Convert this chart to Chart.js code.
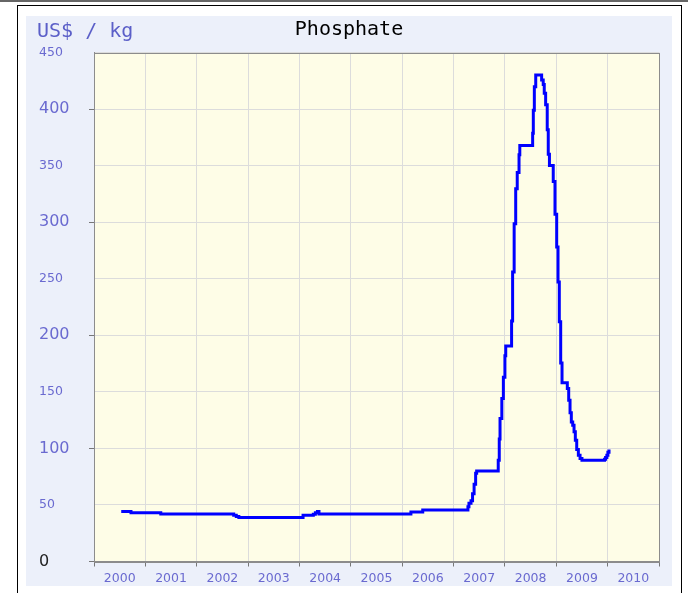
<!DOCTYPE html>
<html><head><meta charset="utf-8">
<script src="https://cdn.jsdelivr.net/npm/chart.js@4/dist/chart.umd.min.js"></script>
<style>
html,body{margin:0;padding:0;background:#fff;width:688px;height:593px;overflow:hidden;}
#topline{position:absolute;left:0;top:0;width:688px;height:2px;background:#666;}
#frame{position:absolute;left:17px;top:5px;width:665px;height:600px;border:1px solid #000;box-sizing:border-box;}
#panel{position:absolute;left:26px;top:16px;width:646px;height:570px;background:#ECF0FA;}
#unit{position:absolute;left:37px;top:18px;font:20px 'DejaVu Sans Mono',monospace;line-height:24px;color:#5b5fc8;white-space:pre;}
canvas{position:absolute;left:0;top:0;}
</style></head>
<body>
<div id="topline"></div>
<div id="frame"></div>
<div id="panel"><canvas id="c" width="646" height="570"></canvas></div>
<div id="unit">US$ / kg</div>
<script>
// Time positions (decimal years) where each new price level begins
const times = [
  2000.53, 2000.72, 2001.30, 2002.72, 2002.77, 2002.82,
  2004.07, 2004.27, 2004.31, 2004.35, 2004.38, 2006.17, 2006.40,
  2007.28, 2007.30, 2007.34, 2007.37, 2007.40, 2007.43, 2007.45,
  2007.87, 2007.89, 2007.905, 2007.94, 2007.97, 2008.00, 2008.016,
  2008.13, 2008.15, 2008.18, 2008.21, 2008.24, 2008.275, 2008.29,
  2008.54, 2008.553, 2008.573, 2008.60, 2008.715, 2008.746, 2008.766,
  2008.793, 2008.824, 2008.844, 2008.867, 2008.941, 2008.975, 2009.008,
  2009.034, 2009.059, 2009.086, 2009.112, 2009.215, 2009.242, 2009.268,
  2009.293, 2009.32, 2009.346, 2009.371, 2009.398, 2009.43, 2009.463,
  2009.50, 2009.94, 2009.96, 2009.985, 2010.005, 2010.027
];
// Phosphate price (US$ / kg as labelled)
const prices = [
  44.3, 43.1, 42.0, 40.8, 39.8, 39.0,
  40.8, 41.8, 43.2, 44.3, 42.0, 43.7, 45.5,
  48.5, 51.4, 53.7, 60.0, 68.4, 78.0, 80.0,
  89.6, 108.4, 126.4, 144.0, 163.0, 182.0, 190.5,
  212.6, 256.0, 298.6, 329.5, 344.0, 359.5, 367.7,
  378.6, 399.0, 419.8, 430.0, 425.7, 421.6, 414.0,
  403.7, 381.6, 360.0, 350.0, 336.0, 307.0, 278.0,
  247.0, 212.0, 175.5, 158.0, 153.0, 142.6, 131.4,
  123.4, 120.5, 114.6, 107.3, 99.0, 94.0, 91.1,
  89.6, 90.5, 92.0, 94.0, 96.5, 99.0
];
const yearTicks = [2000, 2001, 2002, 2003, 2004, 2005, 2006, 2007, 2008, 2009, 2010];
const valueTicks = [0, 50, 100, 150, 200, 250, 300, 350, 400, 450];
const titleText = 'Phosphate';

const labelColor = '#6a6ad0';
const plotFrame = {
  id: 'plotFrame',
  beforeDraw(chart) {
    const {ctx, chartArea: a} = chart;
    ctx.save();
    ctx.fillStyle = '#FEFDE7';
    ctx.fillRect(a.left, a.top, a.width, a.height);
    ctx.restore();
  },
  beforeDatasetsDraw(chart) {
    const {ctx, chartArea: a} = chart;
    ctx.save();
    ctx.strokeStyle = '#8c8c8c';
    ctx.lineWidth = 1;
    ctx.strokeRect(Math.round(a.left) + 0.5, Math.round(a.top) + 0.5, Math.round(a.width), Math.round(a.height));
    ctx.restore();
  }
};

new Chart(document.getElementById('c'), {
  type: 'line',
  data: {
    datasets: [{
      data: times.map((t, i) => ({x: t, y: prices[i]})),
      borderColor: '#0000FF',
      borderWidth: 3,
      pointRadius: 0,
      stepped: true,
      fill: false
    }]
  },
  options: {
    responsive: false,
    animation: false,
    devicePixelRatio: 1,
    layout: {padding: {left: 13, right: 13, top: 0, bottom: 0}},
    plugins: {
      legend: {display: false},
      tooltip: {enabled: false},
      title: {
        display: true,
        text: titleText,
        color: '#000',
        font: {family: "'DejaVu Sans Mono', monospace", size: 20, weight: 'normal', lineHeight: 1.2},
        padding: {top: 2, bottom: 10.5}
      }
    },
    scales: {
      x: {
        type: 'linear',
        min: 2000, max: 2011,
        afterBuildTicks: s => { s.ticks = yearTicks.concat([2011]).map(v => ({value: v})); },
        afterFit: s => { s.height = 24.5; },
        ticks: {
          autoSkip: false, maxRotation: 0, minRotation: 0,
          labelOffset: 25.68,
          padding: 5,
          color: labelColor,
          font: {family: "'DejaVu Sans', sans-serif", size: 12.5},
          callback: v => (yearTicks.includes(v) ? String(v) : '')
        },
        grid: {color: '#dcdcdc', tickColor: '#777', tickLength: 5, lineWidth: 1},
        border: {color: '#8c8c8c'}
      },
      y: {
        min: 0, max: 450,
        afterBuildTicks: s => { s.ticks = valueTicks.map(v => ({value: v})); },
        afterFit: s => { s.width = 55; },
        ticks: {
          crossAlign: 'far',
          padding: 4,
          color: ctx => (ctx.tick && ctx.tick.value === 0 ? '#222' : labelColor),
          font: ctx => ({family: "'DejaVu Sans', sans-serif", size: (ctx.tick && ctx.tick.value % 100 === 0) ? 16 : 12.5}),
          callback: v => String(v)
        },
        grid: {
          color: '#dcdcdc',
          tickLength: 5,
          tickColor: ctx => (ctx.tick && ctx.tick.value % 100 === 0 ? '#777' : 'rgba(0,0,0,0)')
        },
        border: {color: '#8c8c8c'}
      }
    }
  },
  plugins: [plotFrame]
});
</script>
</body></html>
